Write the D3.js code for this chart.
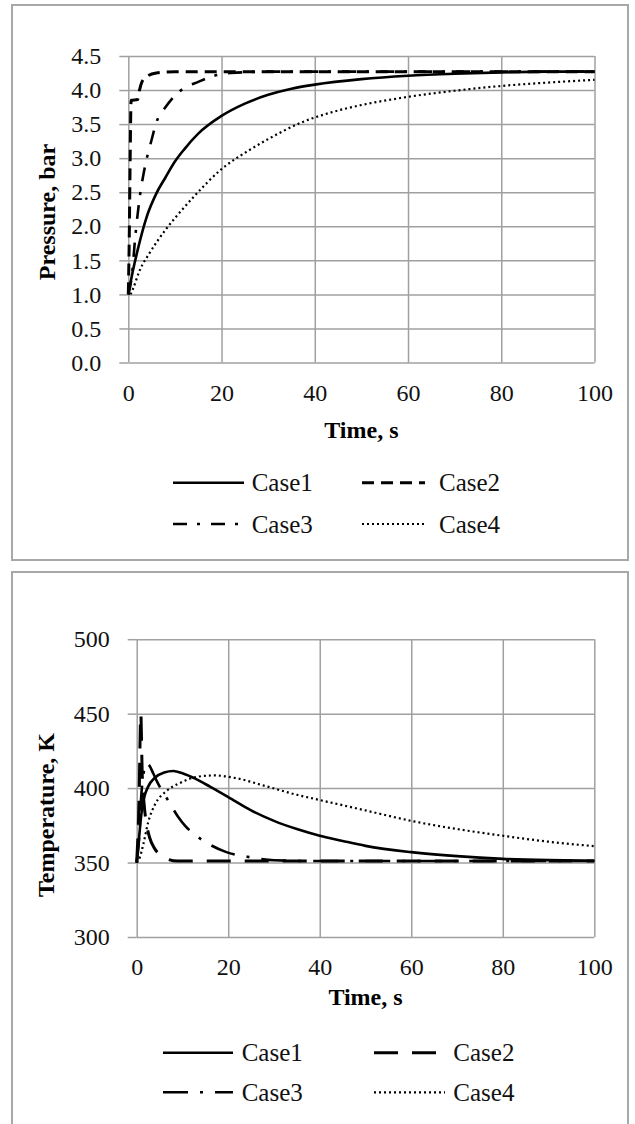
<!DOCTYPE html>
<html>
<head>
<meta charset="utf-8">
<script src="https://cdn.jsdelivr.net/npm/d3@7"></script>
<style>
  body { margin: 0; background: #fff; }
  svg { display: block; }
  svg text { font-family: "Liberation Serif", "Times New Roman", serif !important; }
</style>
</head>
<body>
<svg id="chart" width="635" height="1124"></svg>
<script>
// data
const caseNames = ["Case1", "Case2", "Case3", "Case4"]
const timeTicks = [0, 20, 40, 60, 80, 100]
const pressureTicks = [0, 0.5, 1, 1.5, 2, 2.5, 3, 3.5, 4, 4.5]
const temperatureTicks = [300, 350, 400, 450, 500]

// pressure [time s, bar]
const pressureCase1 = [[0,1.0],[1,1.35],[2,1.65],[4,2.15],[6,2.48],[8,2.72],[10,2.95],[12,3.13],[15,3.36],[20,3.62],[25,3.80],[30,3.93],[35,4.02],[40,4.08],[50,4.16],[60,4.21],[70,4.24],[80,4.26],[90,4.27],[100,4.27]]
const pressureCase2 = [[0,1.0],[0.2,1.8],[0.4,3.0],[0.6,3.85],[2.0,3.86],[2.4,4.0],[3,4.13],[4,4.2],[6,4.25],[10,4.27],[100,4.27]]
const pressureCase3 = [[0,1.0],[0.8,1.3],[1.5,1.85],[2.5,2.45],[3.5,2.85],[5,3.27],[6,3.52],[8,3.75],[10,3.92],[12,4.03],[15,4.12],[18,4.2],[22,4.25],[30,4.27],[100,4.27]]
const pressureCase4 = [[0.5,1.0],[1,1.08],[2.5,1.36],[4.5,1.6],[8,1.95],[10,2.12],[14,2.43],[20,2.84],[26,3.12],[30,3.28],[37,3.52],[45,3.70],[50,3.78],[60,3.90],[70,3.99],[80,4.06],[90,4.11],[100,4.15]]

// temperature [time s, K]
const temperatureCase1 = [[0,350],[0.5,366],[1,382],[1.5,392],[2.5,401],[4,407],[6,410.5],[8,411.5],[10,410],[13,406],[16,401],[20,394],[25,385],[30,378],[35,372.5],[40,368],[45,364.5],[50,361.2],[60,357],[70,354.3],[80,352.5],[90,351.6],[100,351.2]]
const temperatureCase2 = [[0,350],[0.5,390],[0.9,450],[1.2,410],[1.6,390],[2.2,375],[2.8,367],[4,359],[5.4,354.5],[7,352],[9,351],[100,351]]
const temperatureCase3 = [[0,350],[0.5,365],[1,395],[1.5,410],[2.1,417],[2.8,415],[3.6,410],[4.5,404],[5.4,399],[6.8,392],[9,381],[10.5,375],[13,368],[16,362],[19.6,357],[24,354],[30,351.5],[40,351],[100,351]]
const temperatureCase4 = [[0,350],[0.5,352],[1.5,363],[2.5,377],[4,389],[6.5,398],[9.5,403.5],[13,407.5],[17,408.5],[22,406.5],[28,401.5],[35,395.5],[40,392],[50,385],[60,378],[70,372.5],[80,368],[90,364],[100,361]]

const gridColor = "#a0a0a0"
const serif = '"Liberation Serif", "Times New Roman", serif'
const svg = d3.select("#chart")

const drawChart = (o) => {
    // outer frame
    svg.append("rect")
        .attr("x", o.box[0]).attr("y", o.box[1])
        .attr("width", o.box[2]).attr("height", o.box[3])
        .attr("fill", "none").attr("stroke", "#a8a8a8").attr("stroke-width", 2)

    const x = d3.scaleLinear().domain([0, 100]).range([o.left, o.right])
    const y = d3.scaleLinear().domain(o.yDomain).range([o.bottom, o.top])
    const plotW = o.right - o.left
    const plotH = o.bottom - o.top

    // vertical grid
    svg.append("g")
        .attr("transform", "translate(0," + o.bottom + ")")
        .call(d3.axisBottom(x).tickValues(timeTicks).tickSize(-plotH).tickFormat(""))
        .call(g => g.select(".domain").remove())
        .selectAll("line").attr("stroke", gridColor).attr("stroke-width", 1.5)

    // horizontal grid
    svg.append("g")
        .attr("transform", "translate(" + o.left + ",0)")
        .call(d3.axisLeft(y).tickValues(o.yTicks).tickSizeInner(-plotW).tickSizeOuter(0).tickFormat(""))
        .call(g => g.select(".domain").remove())
        .selectAll("line").attr("stroke", gridColor).attr("stroke-width", 1.5)

    // y axis: short outside ticks + labels
    const yAxis = svg.append("g")
        .attr("transform", "translate(" + o.left + ",0)")
        .call(d3.axisLeft(y).tickValues(o.yTicks).tickSize(9).tickPadding(18).tickFormat(o.yFormat))
    yAxis.select(".domain").remove()
    yAxis.selectAll("line").attr("stroke", gridColor).attr("stroke-width", 1.5)
    yAxis.selectAll("text").attr("font-size", 24).attr("fill", "#111").style("font-family", serif)

    const xAxis = svg.append("g")
        .attr("transform", "translate(0," + o.bottom + ")")
        .call(d3.axisBottom(x).tickValues(timeTicks).tickSize(0).tickPadding(21))
    xAxis.select(".domain").remove()
    xAxis.selectAll("text").attr("font-size", 24).attr("fill", "#111").style("font-family", serif)

    // titles
    svg.append("text")
        .attr("x", (o.left + o.right) / 2).attr("y", o.xTitleY)
        .attr("text-anchor", "middle").attr("font-size", 24).attr("font-weight", "bold")
        .style("font-family", serif)
        .text("Time, s")
    svg.append("text")
        .attr("transform", "translate(" + o.yTitleX + "," + o.yTitleY + ") rotate(-90)")
        .attr("text-anchor", "middle").attr("font-size", 24).attr("font-weight", "bold")
        .style("font-family", serif)
        .text(o.yTitle)

    const line = d3.line()
        .x(d => x(d[0]))
        .y(d => y(d[1]))
        .curve(d3.curveMonotoneX)

    svg.append("g").selectAll("path")
        .data(o.series)
        .enter()
        .append("path")
        .attr("d", line)
        .attr("fill", "none")
        .attr("stroke", "#000")
        .attr("stroke-width", (d, i) => o.widths[i])
        .attr("stroke-dasharray", (d, i) => o.dashes[i])

    // legend, two columns
    const legend = svg.append("g").selectAll("g")
        .data(caseNames)
        .enter()
        .append("g")
    legend.append("line")
        .attr("x1", (d, i) => o.legend.lineX[i % 2][0])
        .attr("x2", (d, i) => o.legend.lineX[i % 2][1])
        .attr("y1", (d, i) => o.legend.rowY[Math.floor(i / 2)])
        .attr("y2", (d, i) => o.legend.rowY[Math.floor(i / 2)])
        .attr("stroke", "#000")
        .attr("stroke-width", (d, i) => o.widths[i])
        .attr("stroke-dasharray", (d, i) => o.dashes[i])
    legend.append("text")
        .attr("x", (d, i) => o.legend.textX[i % 2])
        .attr("y", (d, i) => o.legend.rowY[Math.floor(i / 2)] + 8.5)
        .attr("font-size", 25)
        .attr("fill", "#111")
        .style("font-family", serif)
        .text(d => d)
}

drawChart({
    box: [12, 5, 616, 555],
    left: 128.3, right: 594.5, top: 56, bottom: 362.5,
    yDomain: [0, 4.5], yTicks: pressureTicks, yFormat: d3.format(".1f"),
    yTitle: "Pressure, bar", yTitleX: 55, yTitleY: 212, xTitleY: 438,
    series: [pressureCase1, pressureCase2, pressureCase3, pressureCase4],
    widths: [2.6, 3, 2.6, 2.2],
    dashes: [null, "12,7", "14,10,3,11", "2,3"],
    legend: { rowY: [482.7, 524], lineX: [[173, 244], [362, 425]], textX: [251.7, 439] }
})

drawChart({
    box: [12, 572, 616, 600],
    left: 136.7, right: 594.3, top: 639.2, bottom: 937,
    yDomain: [300, 500], yTicks: temperatureTicks, yFormat: d3.format("d"),
    yTitle: "Temperature, K", yTitleX: 54, yTitleY: 815, xTitleY: 1005,
    series: [temperatureCase1, temperatureCase2, temperatureCase3, temperatureCase4],
    widths: [2.6, 3, 2.6, 2.2],
    dashes: [null, "24,14", "25,12,3,12", "2,3"],
    legend: { rowY: [1052.7, 1092.3], lineX: [[163, 233], [374, 445]], textX: [241.7, 453.3] }
})
</script>
</body>
</html>
